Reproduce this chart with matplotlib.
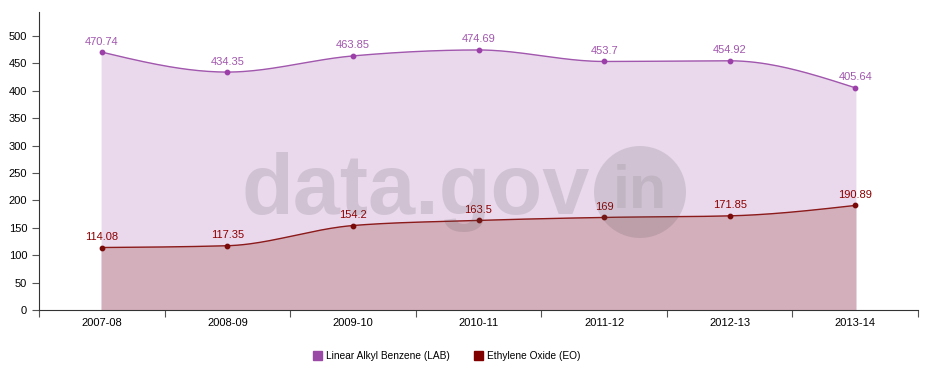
import numpy as np
import matplotlib.pyplot as plt
from matplotlib.patches import Circle

plt.rcParams['font.family'] = ['Liberation Sans', 'DejaVu Sans']

years = ['2007-08', '2008-09', '2009-10', '2010-11', '2011-12', '2012-13', '2013-14']
lab = [470.74, 434.35, 463.85, 474.69, 453.7, 454.92, 405.64]
eo = [114.08, 117.35, 154.2, 163.5, 169, 171.85, 190.89]
lab_labels = ['470.74', '434.35', '463.85', '474.69', '453.7', '454.92', '405.64']
eo_labels = ['114.08', '117.35', '154.2', '163.5', '169', '171.85', '190.89']


def monotone(x, y, n=40):
    # monotone cubic curve (d3 curveMonotoneX style), only for drawing
    x = np.asarray(x, float)
    y = np.asarray(y, float)
    h = np.diff(x)
    s = np.diff(y) / h
    m = np.zeros_like(y)
    for i in range(1, len(y) - 1):
        if s[i - 1] * s[i] <= 0:
            m[i] = 0
        else:
            p = (s[i - 1] * h[i] + s[i] * h[i - 1]) / (h[i - 1] + h[i])
            m[i] = (np.sign(s[i - 1]) + np.sign(s[i])) * min(abs(s[i - 1]), abs(s[i]), 0.5 * abs(p))
    m[0] = (3 * s[0] - m[1]) / 2 if len(y) > 2 else s[0]
    m[-1] = (3 * s[-1] - m[-2]) / 2
    xs, ys = [], []
    for i in range(len(h)):
        t = np.linspace(0, 1, n)
        h00 = 2 * t**3 - 3 * t**2 + 1
        h10 = t**3 - 2 * t**2 + t
        h01 = -2 * t**3 + 3 * t**2
        h11 = t**3 - t**2
        xs.append(x[i] + t * h[i])
        ys.append(h00 * y[i] + h10 * h[i] * m[i] + h01 * y[i + 1] + h11 * h[i] * m[i + 1])
    return np.concatenate(xs), np.concatenate(ys)


fig = plt.figure(figsize=(9.26, 3.78), dpi=100)
ax = fig.add_axes([39 / 926, 68 / 378, 879 / 926, 298 / 378])

x = np.arange(len(years))
lab_c = '#a157ad'
eo_c = '#8b1a1a'

xl, yl = monotone(x, lab)
ax.fill_between(xl, 0, yl, color='#ead9ed', zorder=1)
xe, ye = monotone(x, eo)
ax.fill_between(xe, 0, ye, color='#d3aebb', zorder=2)

ax.plot(xl, yl, color=lab_c, lw=1, zorder=4)
ax.plot(xe, ye, color=eo_c, lw=1, zorder=4)
ax.scatter(x, lab, s=10, color='#9c3fa8', zorder=5)
ax.scatter(x, eo, s=10, color='#7a0a0a', zorder=5)

for xi, v, t in zip(x, lab, lab_labels):
    ax.annotate(t, (xi, v), xytext=(0, 4), textcoords='offset points',
                ha='center', va='bottom', fontsize=8, color='#a157ad', zorder=6)
for xi, v, t in zip(x, eo, eo_labels):
    ax.annotate(t, (xi, v), xytext=(0, 4), textcoords='offset points',
                ha='center', va='bottom', fontsize=8, color='#8b0000', zorder=6)

# watermark
fig.text(242 / 926, 1 - 214 / 378, 'data.gov', fontsize=61, fontweight='bold',
         color='#555555', alpha=0.17, ha='left', va='baseline', zorder=3)
circ = Circle((6.40, 3.78 - 1.92), 0.46, transform=fig.dpi_scale_trans,
              facecolor='#555555', alpha=0.17, edgecolor='none')
fig.patches.append(circ)
fig.text(640 / 926, 1 - 192 / 378, 'in', fontsize=44, fontweight='bold',
         color='#555555', alpha=0.12, ha='center', va='center')

ax.set_xlim(-0.5, 6.5)
ax.set_ylim(0, 544)
ax.set_yticks(range(0, 501, 50))
ax.set_xticks(np.arange(-0.5, 7, 1))
ax.set_xticklabels([])
ax.set_xticks(x, minor=True)
ax.set_xticklabels(years, minor=True)
ax.tick_params(axis='x', which='minor', length=0, pad=6, labelsize=8)
ax.tick_params(axis='x', which='major', length=5, color='#555555')
ax.tick_params(axis='y', length=5, labelsize=8, color='#555555')
for sp in ['top', 'right']:
    ax.spines[sp].set_visible(False)
for sp in ['left', 'bottom']:
    ax.spines[sp].set_color('#333333')

h1 = plt.Rectangle((0, 0), 1, 1, color='#9b49a7')
h2 = plt.Rectangle((0, 0), 1, 1, color='#800000')
fig.legend([h1, h2], ['Linear Alkyl Benzene (LAB)', 'Ethylene Oxide (EO)'],
           loc='center', bbox_to_anchor=(447 / 926, 1 - 356 / 378), ncol=2, frameon=False,
           fontsize=7.25, handlelength=0.9, handleheight=0.9, columnspacing=2.4, handletextpad=0.4)

fig.savefig('out.png', dpi=100)
